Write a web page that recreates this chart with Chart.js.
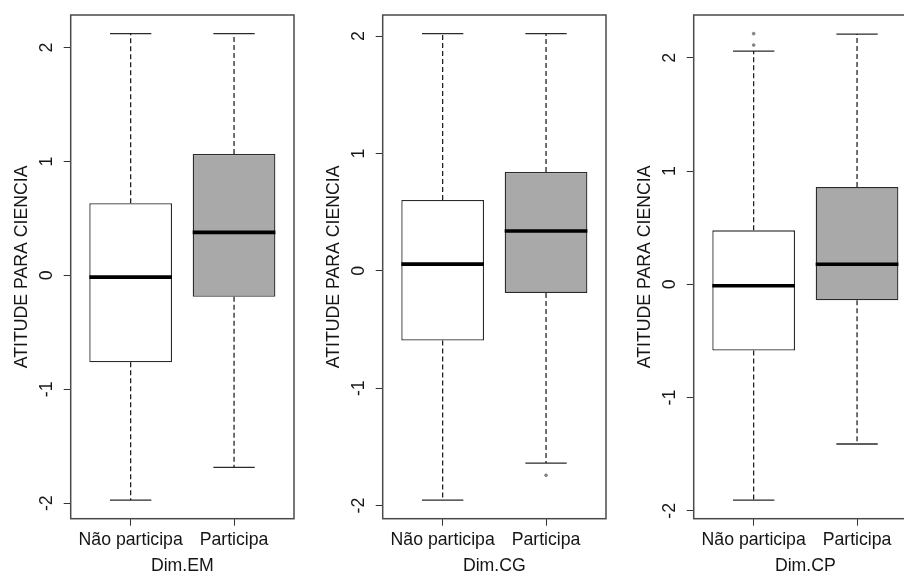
<!DOCTYPE html>
<html><head><meta charset="utf-8">
<script src="https://cdn.jsdelivr.net/npm/chart.js@4"></script>
<style>
html,body{margin:0;padding:0;overflow:hidden;background:#fff;width:904px;height:576px;position:relative}
canvas{position:absolute;top:0}
</style></head><body>
<canvas id="c0" width="311" height="576" style="left:0px"></canvas>
<canvas id="c1" width="311" height="576" style="left:312px"></canvas>
<canvas id="c2" width="311" height="576" style="left:622.6px"></canvas>
<script>
// ---- data ----
const CATEGORIES = ['Não participa', 'Participa'];
const PANEL_TITLES = ['Dim.EM', 'Dim.CG', 'Dim.CP'];
const Y_TITLE = 'ATITUDE PARA CIENCIA';
const Y_TICKS = [-2, -1, 0, 1, 2];
// one row per panel, one value per category
const LOWER_WHISKER = [[-1.972, -1.685], [-1.953, -1.638], [-1.905, -1.410]];
const Q1            = [[-0.762, -0.188], [-0.594, -0.188], [-0.585, -0.141]];
const MEDIAN        = [[-0.015,  0.378], [ 0.057,  0.339], [-0.012,  0.177]];
const Q3            = [[ 0.635,  1.066], [ 0.603,  0.842], [ 0.477,  0.859]];
const UPPER_WHISKER = [[ 2.123,  2.123], [ 2.021,  2.021], [ 2.060,  2.210]];
const OUTLIERS      = [[[], []], [[], [-1.742]], [[2.113, 2.214], []]];

// ---- styles ----
const FONT = 'Liberation Sans, Arial, sans-serif';
const FS = 17.7;
const TXT = '#151515';
const BOX_FILL = ['#ffffff', '#a9a9a9'];
const LINE = '#2a2a2a';
const BOX_HALF = 0.4, CAP_HALF = 0.2;

Chart.defaults.font.family = FONT;
Chart.defaults.font.size = FS;
Chart.defaults.color = TXT;

const framePlugin = {
  id: 'frame',
  afterDraw(chart) {
    const {ctx, chartArea: a} = chart;
    ctx.save();
    ctx.strokeStyle = '#4a4a4a';
    ctx.lineWidth = 1.5;
    ctx.strokeRect(a.left, a.top, a.right - a.left, a.bottom - a.top);
    ctx.restore();
  }
};

function segments(list) {
  const out = [];
  list.forEach((s, i) => {
    if (i) out.push({x: s[0], y: null});
    out.push({x: s[0], y: s[1]}, {x: s[2], y: s[3]});
  });
  return out;
}

function makePanel(p) {
  const xs = CATEGORIES.map((c, i) => i + 1);
  const all = [].concat(LOWER_WHISKER[p], UPPER_WHISKER[p], ...OUTLIERS[p]);
  const lo = Math.min(...all), hi = Math.max(...all);
  const ext = 0.04 * (hi - lo);

  const whiskers = [];
  const caps = [];
  const medians = [];
  const outl = [];
  xs.forEach((x, i) => {
    whiskers.push([x, Q3[p][i], x, UPPER_WHISKER[p][i]]);
    whiskers.push([x, Q1[p][i], x, LOWER_WHISKER[p][i]]);
    caps.push([x - CAP_HALF, UPPER_WHISKER[p][i], x + CAP_HALF, UPPER_WHISKER[p][i]]);
    caps.push([x - CAP_HALF, LOWER_WHISKER[p][i], x + CAP_HALF, LOWER_WHISKER[p][i]]);
    medians.push([x - BOX_HALF, MEDIAN[p][i], x + BOX_HALF, MEDIAN[p][i]]);
    OUTLIERS[p][i].forEach(v => outl.push({x: x, y: v}));
  });

  new Chart(document.getElementById('c' + p), {
    type: 'bar',
    data: {
      datasets: [
        {
          type: 'line', order: 0, data: segments(medians),
          borderColor: '#000', borderWidth: 3.6, pointRadius: 0, spanGaps: false, borderCapStyle: 'butt'
        },
        {
          type: 'line', order: 1, data: outl, showLine: false,
          pointRadius: 1.4, pointBackgroundColor: '#888', pointBorderColor: '#777', pointBorderWidth: 0.8
        },
        {
          type: 'bar', order: 2,
          data: xs.map((x, i) => ({x: x, y: [Q1[p][i], Q3[p][i]]})),
          backgroundColor: BOX_FILL, borderColor: LINE, borderWidth: 1.3, borderSkipped: false,
          barPercentage: 0.8, categoryPercentage: 1.0
        },
        {
          type: 'line', order: 3, data: segments(whiskers),
          borderColor: '#111', borderWidth: 1.2, borderDash: [5, 3], pointRadius: 0, spanGaps: false
        },
        {
          type: 'line', order: 3, data: segments(caps),
          borderColor: LINE, borderWidth: 1.3, pointRadius: 0, spanGaps: false
        }
      ]
    },
    options: {
      responsive: false,
      animation: false,
      devicePixelRatio: 1,
      layout: {autoPadding: false, padding: {left: 0, right: 17, top: 15, bottom: 0}},
      plugins: {legend: {display: false}, tooltip: {enabled: false}},
      events: [],
      scales: {
        x: {
          type: 'linear', min: 0.42, max: 2.58, offset: false,
          afterBuildTicks: s => { s.ticks = xs.map(v => ({value: v})); },
          afterFit: s => { s.height = 57.3; s.paddingLeft = 0; s.paddingRight = 0; },
          ticks: {
            callback: v => CATEGORIES[Math.round(v) - 1], maxRotation: 0, minRotation: 0,
            autoSkip: false, padding: 4, color: TXT, font: {size: FS}
          },
          grid: {display: true, drawOnChartArea: false, drawTicks: true, tickLength: 7, color: '#333', offset: false},
          border: {display: false},
          title: {display: true, text: PANEL_TITLES[p], color: TXT, font: {size: FS, lineHeight: 1.1}, padding: {top: 0, bottom: 0}}
        },
        y: {
          type: 'linear', min: lo - ext, max: hi + ext,
          afterBuildTicks: s => { s.ticks = Y_TICKS.map(v => ({value: v})); },
          afterFit: s => { s.width = 70.7; s.paddingTop = 0; s.paddingBottom = 0; },
          ticks: {
            minRotation: 90, maxRotation: 90, crossAlign: 'center', padding: 9,
            autoSkip: false, color: TXT, font: {size: FS}
          },
          grid: {display: true, drawOnChartArea: false, drawTicks: true, tickLength: 7, color: '#333'},
          border: {display: false},
          title: {display: true, text: Y_TITLE, color: TXT, font: {size: FS}, padding: {top: 11, bottom: 0}}
        }
      }
    },
    plugins: [framePlugin]
  });
}

[0, 1, 2].forEach(makePanel);
</script>
</body></html>
